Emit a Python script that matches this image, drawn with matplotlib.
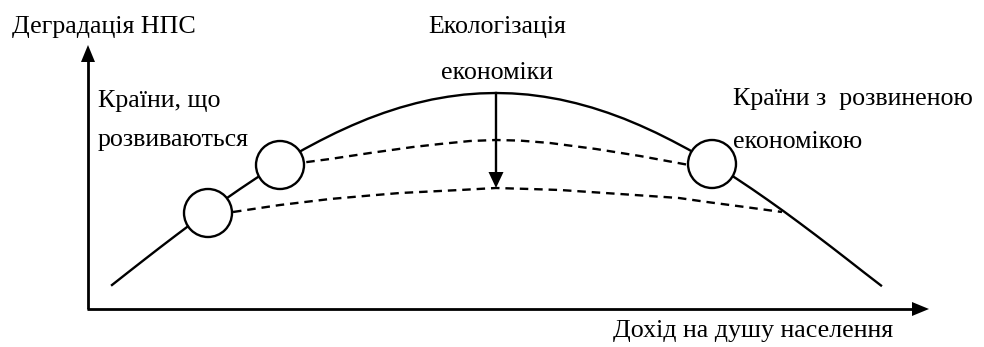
import matplotlib
matplotlib.use("Agg")
import matplotlib.pyplot as plt
from matplotlib.patches import Circle

# ---- data (pixel-like units, y grows downward) ----
curve_x = [112, 128, 144, 160, 176, 192, 208, 224, 240, 256, 272, 288, 304,
           320, 336, 352, 368, 384, 400, 416, 432, 448, 464, 480, 496,
           512, 528, 544, 560, 576, 592, 608, 624, 640, 656, 672, 688,
           704, 720, 736, 752, 768, 784, 800, 816, 832, 848, 864, 881]
curve_y = [285, 272.4, 259.9, 247.5, 235.3, 223.3, 211.5, 200.1, 189, 178.3,
           168.1, 158.4, 149.2, 140.7, 132.7, 125.4, 118.7, 112.8, 107.6,
           103.2, 99.5, 96.7, 94.6, 93.4, 93,
           93.4, 94.6, 96.7, 99.5, 103.2, 107.6, 112.8, 118.7, 125.4, 132.7,
           140.7, 149.2, 158.4, 168.1, 178.3, 189, 200.1, 211.5, 223.3,
           235.3, 247.5, 259.9, 272.4, 285.5]

upper_dash_x = [292, 330, 370, 413, 440, 470, 496, 520, 550, 596, 640, 689]
upper_dash_y = [164, 159, 153, 147, 144, 141, 140, 140.6, 143, 149, 156, 165]

lower_dash_x = [233, 280, 330, 370, 400, 430, 460, 496, 530, 560, 620, 679, 707, 745, 782]
lower_dash_y = [212, 205, 199, 195.5, 193, 191.5, 190, 188, 189, 190, 194, 198, 202, 207, 212]

circle_x = [208, 280, 712]
circle_y = [213, 165, 164]
circle_r = 24

arrow_x = 496
arrow_y = [93, 188]

labels = {
    "y_axis": "Деградація НПС",
    "x_axis": "Дохід на душу населення",
    "developing1": "Країни, що",
    "developing2": "розвиваються",
    "eco1": "Екологізація",
    "eco2": "економіки",
    "developed1": "Країни з  розвиненою",
    "developed2": "економікою",
}

W, H = 984, 347
fig = plt.figure(figsize=(W / 100, H / 100), dpi=100)
ax = fig.add_axes([0, 0, 1, 1])
ax.set_xlim(0, W)
ax.set_ylim(H, 0)
ax.axis("off")

font = dict(family=["Liberation Serif", "DejaVu Serif"], fontsize=18.7, color="black")

# axes arrows
ax.plot([88, 88], [309, 60], color="black", lw=2.0, solid_capstyle="butt")
ax.plot([87, 915], [309, 309], color="black", lw=2.0, solid_capstyle="butt")
ax.fill([81, 95, 88], [62, 62, 45], color="black", lw=0)
ax.fill([912, 912, 929], [302, 316, 309], color="black", lw=0)

# curves
ax.plot(curve_x, curve_y, color="black", lw=1.7, zorder=2)
ax.plot(upper_dash_x, upper_dash_y, color="black", lw=1.7, dashes=(3.6, 2.5), zorder=2)
ax.plot(lower_dash_x, lower_dash_y, color="black", lw=1.7, dashes=(3.6, 2.5), zorder=2)

# vertical arrow
ax.plot([arrow_x, arrow_x], [arrow_y[0], arrow_y[1] - 14], color="black", lw=1.7, zorder=3)
ax.fill([arrow_x - 7.5, arrow_x + 7.5, arrow_x], [arrow_y[1] - 16, arrow_y[1] - 16, arrow_y[1]],
        color="black", lw=0, zorder=3)

# circles
for cx, cy in zip(circle_x, circle_y):
    ax.add_patch(Circle((cx, cy), circle_r, facecolor="white", edgecolor="black",
                        lw=1.7, zorder=4))

# texts
ax.text(12, 33, labels["y_axis"], ha="left", va="baseline", **font)
ax.text(98, 107, labels["developing1"], ha="left", va="baseline", **font)
ax.text(98, 146, labels["developing2"], ha="left", va="baseline", **font)
ax.text(497, 33, labels["eco1"], ha="center", va="baseline", **font)
ax.text(497, 79, labels["eco2"], ha="center", va="baseline", **font)
ax.text(733, 105, labels["developed1"], ha="left", va="baseline", zorder=5, **font)
ax.text(733, 148, labels["developed2"], ha="left", va="baseline", zorder=5, **font)
ax.text(613, 337, labels["x_axis"], ha="left", va="baseline", **font)

fig.savefig("out.png", dpi=100)
